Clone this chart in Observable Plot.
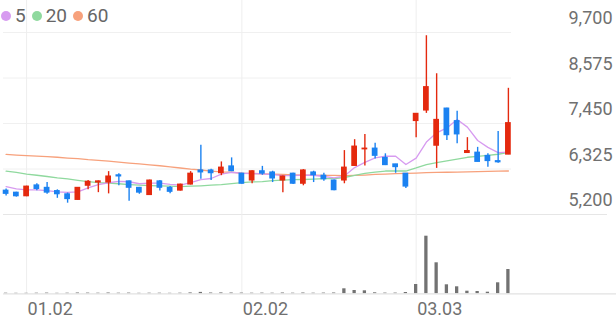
<!DOCTYPE html>
<html><head><meta charset="utf-8">
<script src="https://cdn.jsdelivr.net/npm/d3@7"></script>
<script src="https://cdn.jsdelivr.net/npm/@observablehq/plot@0.6"></script>
<style>
html,body{margin:0;padding:0;background:#fff;}
#wrap{position:relative;width:616px;height:321px;overflow:hidden;font-family:Roboto,sans-serif;}
#price,#vol{position:absolute;left:0;}
#price{top:0;}
#vol{top:220px;}
#legend{position:absolute;top:5px;left:1px;display:flex;align-items:center;font-size:19px;color:#666;line-height:22px;}
#legend .dot{display:inline-block;width:10px;height:10px;border-radius:50%;margin-right:4px;}
#legend .item{display:flex;align-items:center;margin-right:6px;}
</style>
</head><body>
<div id="wrap"><div id="price"></div><div id="vol"></div><div id="legend"></div></div>
<script>
const dates = ["12.29","12.30","01.02","01.05","01.06","01.07","01.08","01.09","01.12","01.13","01.14","01.15","01.16","01.19","01.20","01.21","01.22","01.23","01.26","01.27","01.28","01.29","01.30","02.02","02.03","02.04","02.05","02.06","02.09","02.10","02.11","02.12","02.13","02.19","02.20","02.23","02.24","02.25","02.26","02.27","03.03","03.04","03.05","03.06","03.09","03.10","03.11","03.12","03.13","03.16"];
const open  = [5790,5740,5650,5920,5860,5780,5700,5560,5910,5990,5990,6170,6020,5860,5680,6020,5860,5790,5940,6290,6290,6220,6390,6210,6040,6270,6240,6040,6210,5960,6240,6160,6040,6040,6400,6810,6830,6600,6440,6210,7510,7770,6900,7820,7510,6720,6730,6650,6520,6680];
const high  = [5830,5750,5900,5960,5990,5810,5730,5870,6040,6030,6260,6210,6030,5870,6050,6040,5890,5950,6260,6910,6320,6500,6600,6220,6280,6390,6270,6150,6220,6310,6270,6220,6050,6780,7050,7180,6960,6700,6440,6210,7700,9620,8680,7830,7750,7100,6860,6700,7250,8320];
const low   = [5660,5630,5640,5790,5700,5600,5480,5550,5810,5740,5710,5910,5530,5700,5670,5780,5710,5780,5930,6070,6040,6160,6260,5950,5960,6170,5990,5740,5940,5910,5990,6020,5790,5960,6390,6400,6570,6410,6220,5840,7100,7700,6340,7030,6950,6710,6500,6370,6470,6680];
const close = [5710,5650,5890,5830,5740,5700,5580,5860,6010,6020,6140,6140,5860,5740,6040,5860,5760,5940,6210,6240,6220,6360,6270,5960,6270,6210,6090,6140,5960,6290,6170,6070,5800,6360,6880,6830,6650,6420,6370,5890,7690,8350,7540,7160,7180,6770,6500,6520,6490,7460];
const volume = [6,5,5,6,7,5,6,8,7,6,8,6,7,5,6,6,5,6,9,14,8,9,8,7,6,7,6,8,6,8,6,7,8,50,33,30,10,7,7,13,93,576,310,90,70,26,23,16,110,243];
const ma5  = [5890,5835,5810,5810,5790,5760,5745,5760,5860,5940,5985,6020,6010,5960,5975,5975,5945,5925,5990,6060,6090,6200,6240,6220,6210,6205,6185,6160,6160,6175,6170,6140,6105,6150,6360,6490,6600,6640,6640,6435,6595,6990,7220,7340,7550,7360,7030,6860,6730,6740];
const ma20 = [6270,6240,6200,6170,6140,6105,6080,6045,6015,5990,5975,5960,5940,5925,5915,5910,5900,5890,5900,5910,5925,5940,5965,5990,6005,6015,6040,6050,6060,6065,6075,6085,6090,6115,6165,6215,6250,6275,6280,6275,6350,6435,6485,6525,6570,6615,6635,6660,6690,6735];
const ma60 = [6685,6670,6655,6645,6630,6615,6595,6580,6555,6540,6520,6495,6470,6450,6425,6405,6375,6350,6320,6300,6275,6255,6245,6225,6215,6205,6195,6190,6180,6175,6170,6165,6165,6160,6165,6175,6190,6200,6210,6215,6225,6235,6240,6245,6250,6255,6260,6265,6270,6275];
const yTicks = [5200, 6325, 7450, 8575, 9700];
const xTickLabels = ["01.02", "02.02", "03.03"];
const maNames = ["5", "20", "60"];
const maColors = ["#d79bf0", "#8fd99e", "#f7a17c"];
const upColor = "#e4290e", downColor = "#1b82f1";

const rows = dates.map((d, i) => ({i, date: d, open: open[i], high: high[i], low: low[i], close: close[i], vol: volume[i], ma5: ma5[i], ma20: ma20[i], ma60: ma60[i]}));
const col = d => d.close >= d.open ? upColor : downColor;
const xTickIdx = xTickLabels.map(l => dates.indexOf(l));
const fmt = d3.format(",");
const xScale = {type: "linear", domain: [0, dates.length - 1], range: [5.6, 507.9]};

const price = Plot.plot({
  width: 616, height: 220,
  marginLeft: 3, marginRight: 105, marginTop: 0, marginBottom: 0,
  style: {fontFamily: "Roboto, sans-serif", background: "transparent"},
  x: {...xScale, axis: null},
  y: {domain: [5200, 9700], range: [214, 32], axis: null},
  marks: [
    Plot.ruleY(yTicks.filter(t => t !== 5200), {y: d => d, stroke: "#f0f0f0", strokeWidth: 1}),
    Plot.ruleY([5200], {y: d => d, stroke: "#e6e6e6", strokeWidth: 1, insetRight: -96}),
    Plot.ruleX(xTickIdx, {x: d => d, stroke: "#eeeeee", strokeWidth: 1}),
    Plot.line(rows, {x: "i", y: "ma60", stroke: maColors[2], strokeWidth: 1.3}),
    Plot.line(rows, {x: "i", y: "ma20", stroke: maColors[1], strokeWidth: 1.3}),
    Plot.line(rows, {x: "i", y: "ma5", stroke: maColors[0], strokeWidth: 1.3}),
    Plot.ruleX(rows, {x: "i", y1: "low", y2: "high", stroke: col, strokeWidth: 1.4}),
    Plot.rect(rows, {x1: d => d.i - 0.28, x2: d => d.i + 0.28, y1: d => Math.min(d.open, d.close), y2: d => Math.max(d.open, d.close), fill: col, insetTop: -0.5, insetBottom: -0.5}),
    Plot.text(yTicks, {y: d => d, frameAnchor: "right", textAnchor: "end", dx: 101, dy: -14, text: d => fmt(d), fontSize: 18, fill: "#707070"})
  ]
});
document.getElementById("price").appendChild(price);

const vol = Plot.plot({
  width: 616, height: 101,
  marginLeft: 3, marginRight: 105, marginTop: 0, marginBottom: 27.7,
  style: {fontFamily: "Roboto, sans-serif", background: "transparent"},
  x: {...xScale, axis: null},
  y: {domain: [0, 576], range: [73.3, 15.7], axis: null},
  marks: [
    Plot.ruleX(xTickIdx, {x: d => d, stroke: "#eeeeee", strokeWidth: 1}),
    Plot.rect(rows, {x1: d => d.i - 0.16, x2: d => d.i + 0.16, y1: 0, y2: "vol", fill: "#727272"}),
    Plot.ruleY([0], {stroke: "#e2e2e2", strokeWidth: 1.2, insetRight: -105}),
    Plot.text(xTickIdx, {x: d => d, frameAnchor: "bottom", textAnchor: "start", dx: 1, dy: 21, text: d => dates[d], fontSize: 18, fill: "#707070"})
  ]
});
document.getElementById("vol").appendChild(vol);

const legend = document.getElementById("legend");
maNames.forEach((n, k) => {
  const item = document.createElement("span");
  item.className = "item";
  item.innerHTML = `<span class="dot" style="background:${maColors[k]}"></span><span>${n}</span>`;
  legend.appendChild(item);
});
</script>
</body></html>
